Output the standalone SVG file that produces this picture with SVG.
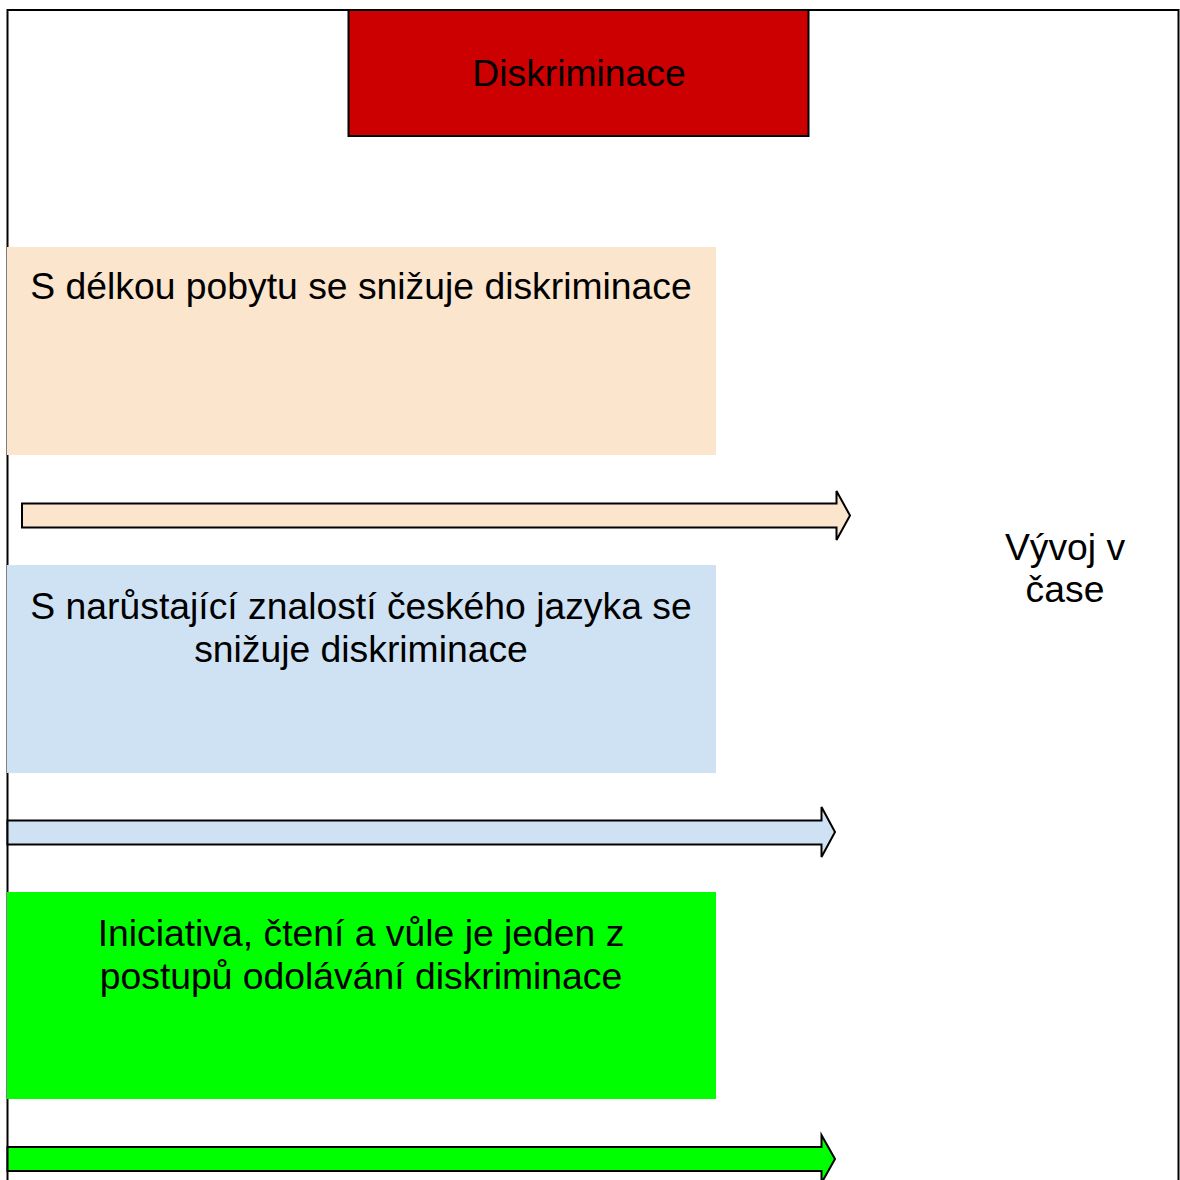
<svg xmlns="http://www.w3.org/2000/svg" width="1180" height="1180" viewBox="0 0 1180 1180">
  <style>
    .lbl { font-family: "Liberation Sans", Arial, sans-serif; font-size: 37.3px; fill: #000; text-anchor: middle; }
    .frame { fill: none; stroke: #000; stroke-width: 2; }
    .arrow { stroke: #000; stroke-width: 2; stroke-linejoin: miter; }
  </style>
  <rect width="1180" height="1180" fill="#fff"/>

  <!-- outer frame (open at the bottom) -->
  <path class="frame" d="M7.5,1180 V10 H1178.5 V1180"/>

  <g id="diskriminace">
    <rect x="348.5" y="10" width="460" height="126" fill="#cc0000" stroke="#000" stroke-width="2"/>
    <text class="lbl" x="579" y="86">Diskriminace</text>
  </g>

  <g id="delka-pobytu">
    <rect x="7" y="247" width="709" height="208" fill="#fce5cd"/>
    <text class="lbl" x="361" y="299">S délkou pobytu se snižuje diskriminace</text>
  </g>

  <g id="znalost-jazyka">
    <rect x="7" y="565" width="709" height="208" fill="#cfe2f3"/>
    <text class="lbl" x="361" y="619">S narůstající znalostí českého jazyka se</text>
    <text class="lbl" x="361" y="662">snižuje diskriminace</text>
  </g>

  <g id="iniciativa">
    <rect x="7" y="892" width="709" height="207" fill="#00ff00"/>
    <text class="lbl" x="361" y="946">Iniciativa, čtení a vůle je jeden z</text>
    <text class="lbl" x="361" y="989">postupů odolávání diskriminace</text>
  </g>

  <g id="vyvoj-v-case">
    <text class="lbl" x="1065" y="560">Vývoj v</text>
    <text class="lbl" x="1065" y="602">čase</text>
  </g>

  <g id="connectors">
    <path class="arrow" fill="#fce5cd" d="M22,503.5 H836.5 V491 L850,515.5 L836.5,540 V527.5 H22 Z"/>
    <path class="arrow" fill="#cfe2f3" d="M7.5,820.5 H821.5 V807 L835,832 L821.5,857 V844.5 H7.5 Z"/>
    <path class="arrow" fill="#00ff00" d="M7.5,1147 H821.5 V1135 L835,1159 L821.5,1183 V1171 H7.5 Z"/>
  </g>
</svg>
